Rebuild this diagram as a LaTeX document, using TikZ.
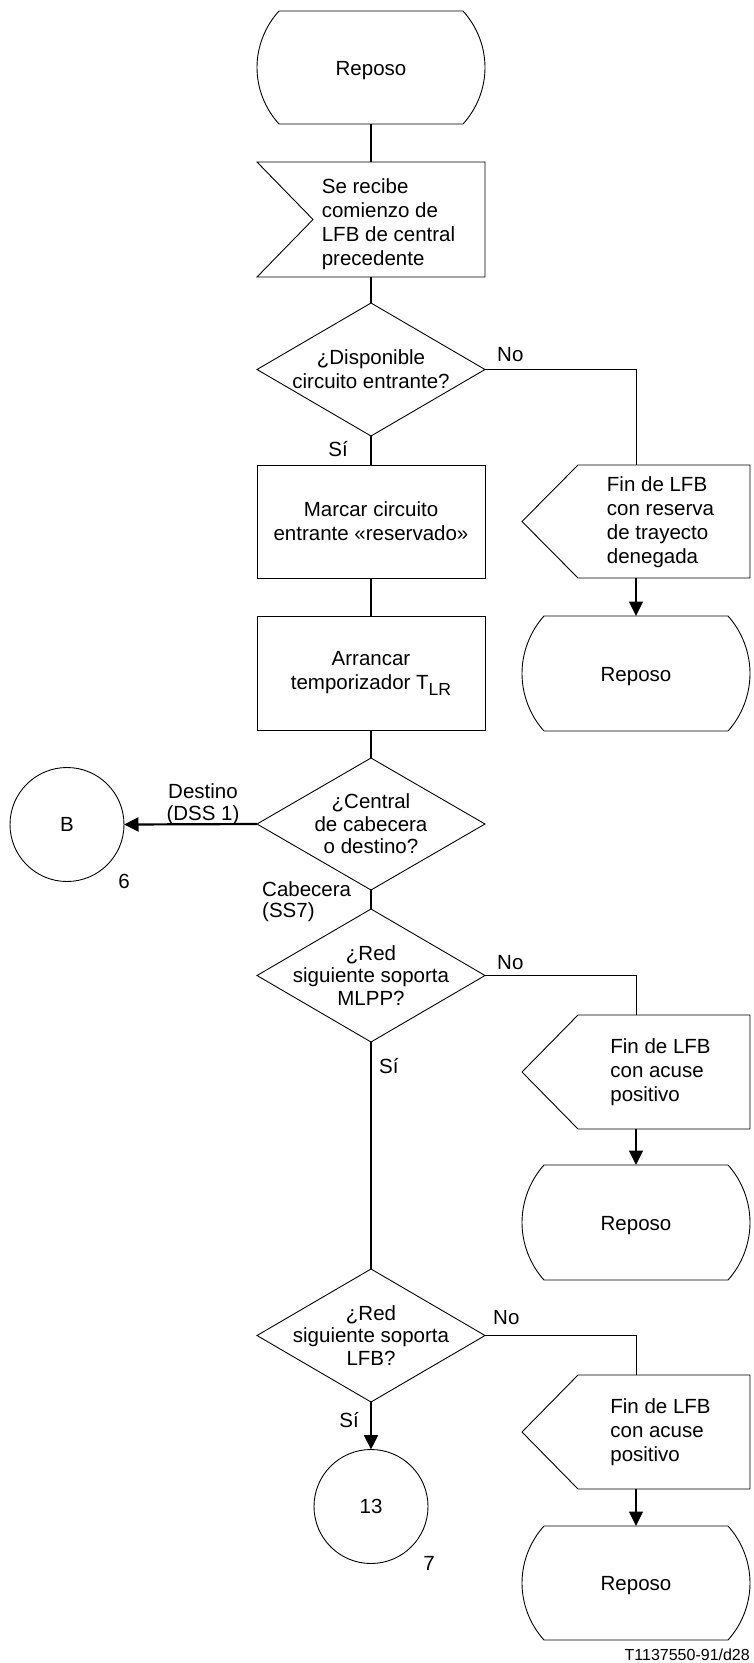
\documentclass[tikz,border=0pt]{standalone}
\usepackage{fontspec}
\setmainfont{Liberation Sans}
\usetikzlibrary{arrows.meta,calc}

\newcommand\boxfont{\fontsize{20.5}{24}\selectfont}
\newcommand\diafont{\fontsize{20.5}{22.5}\selectfont}
\newcommand\lblfont{\fontsize{20.5}{21.5}\selectfont}
\newcommand\notefont{\fontsize{16}{18}\selectfont}

% SDL outlines drawn around plain rectangular nodes
\newcommand\stateoutline[1]{%
  \draw[outline] ($(#1.north west)+(22,0)$) -- ($(#1.north east)+(-22,0)$)
    .. controls +(14,15.5) and +(0,-21) .. (#1.east)
    .. controls +(0,21) and +(14,-15.5) .. ($(#1.south east)+(-22,0)$)
    -- ($(#1.south west)+(22,0)$)
    .. controls +(-14,-15.5) and +(0,21) .. (#1.west)
    .. controls +(0,-21) and +(-14,15.5) .. ($(#1.north west)+(22,0)$) -- cycle;}
\newcommand\insigoutline[1]{%
  \draw[outline] (#1.north west) -- (#1.north east) -- (#1.south east)
    -- (#1.south west) -- ($(#1.west)+(56,0)$) -- cycle;}
\newcommand\outsigoutline[1]{%
  \draw[outline] (#1.west) -- ($(#1.north west)+(56,0)$) -- (#1.north east)
    -- (#1.south east) -- ($(#1.south west)+(56,0)$) -- cycle;}
\newcommand\diaoutline[1]{%
  \draw[outline] (#1.north) -- (#1.east) -- (#1.south) -- (#1.west) -- cycle;}

\tikzset{
  outline/.style={line width=0.9pt, line join=miter},
  base/.style={inner sep=0pt, outer sep=0pt, font=\boxfont},
  statebox/.style={base, align=center, minimum width=228pt, text height=15pt, text depth=0pt},
  procbox/.style={base, align=center, draw, outline, minimum width=228pt},
  sigbox/.style={base, minimum width=228pt, text height=20pt},
  decision/.style={base, align=center, font=\diafont, minimum width=228pt, minimum height=133pt},
  connector/.style={base, circle, draw, outline, minimum size=114pt},
  lbl/.style={inner sep=0pt, font=\lblfont},
  flow/.style={line width=2.2pt},
  branch/.style={line width=1pt},
  branchdown/.style={line width=1.3pt},
  arrowend/.style={-{Triangle[length=14.5pt,width=14pt]}}
}

\begin{document}
\begin{tikzpicture}[x=1pt, y={(0pt,-1pt)}]
\fill[white] (0,0) rectangle (754,1663);
\useasboundingbox (0,0) rectangle (754,1663);

% main column
\node[statebox, minimum height=113pt] (r0) at (371,67.5) {Reposo};
\node[sigbox, minimum height=115pt, text depth=73pt] (sig) at (371,219.5)
  {\hspace*{35pt}\begin{tabular}[t]{@{}l@{}}Se recibe\\comienzo de\\LFB de central\\precedente\end{tabular}};
\node[decision, font=\boxfont] (d1) at (371,369.5) {¿Disponible\\circuito entrante?};
\node[procbox, minimum height=113pt] (mark) at (371,521.5) {Marcar circuito\\entrante «reservado»};
\node[procbox, minimum height=114pt] (timer) at (371,673)
  {Arrancar\\temporizador T\raisebox{-6pt}{\fontsize{17.5}{17.5}\selectfont LR}};
\node[decision, minimum height=132pt] (d2) at (371,824) {¿Central\\de cabecera\\o destino?};
\node[decision] (d3) at (371,975.5) {¿Red\\siguiente soporta\\MLPP?};
\node[decision] (d4) at (371,1335.5) {¿Red\\siguiente soporta\\LFB?};
\node[connector] (c13) at (371,1506.5) {13};
\node[connector] (cB) at (67,824.5) {B};

% right column
\node[sigbox, minimum height=113pt, text depth=81pt] (out1) at (636,521.5)
  {\hspace*{49pt}\begin{tabular}[t]{@{}l@{}}Fin de LFB\\con reserva\\de trayecto\\denegada\end{tabular}};
\node[statebox, minimum height=115pt] (r1) at (636,673.5) {Reposo};
\node[sigbox, minimum height=114pt, text depth=57pt] (out2) at (636,1072)
  {\hspace*{49pt}\begin{tabular}[t]{@{}l@{}}Fin de LFB\\con acuse\\positivo\end{tabular}};
\node[statebox, minimum height=115pt] (r2) at (636,1222.5) {Reposo};
\node[sigbox, minimum height=114pt, text depth=57pt] (out3) at (636,1432)
  {\hspace*{49pt}\begin{tabular}[t]{@{}l@{}}Fin de LFB\\con acuse\\positivo\end{tabular}};
\node[statebox, minimum height=114pt] (r3) at (636,1583) {Reposo};

% outlines
\foreach \n in {r0,r1,r2,r3} {\stateoutline{\n}}
\insigoutline{sig}
\foreach \n in {out1,out2,out3} {\outsigoutline{\n}}
\foreach \n in {d1,d2,d3,d4} {\diaoutline{\n}}

% main flow
\draw[flow] (r0.south) -- (sig.north);
\draw[flow] (sig.south) -- (d1.north);
\draw[flow] (d1.south) -- (mark.north);
\draw[flow] (mark.south) -- (timer.north);
\draw[flow] (timer.south) -- (d2.north);
\draw[flow, arrowend] (d2.west) -- (cB.east);
\draw[flow] (d2.south) -- (d3.north);
\draw[flow] (d3.south) -- (d4.north);
\draw[flow, arrowend] (d4.south) -- (c13.north);

% negative branches
\draw[branch] (d1.east) -| (out1.north);
\draw[branchdown, arrowend] (out1.south) -- (r1.north);
\draw[branch] (d3.east) -| (out2.north);
\draw[branchdown, arrowend] (out2.south) -- (r2.north);
\draw[branch] (d4.east) -| (out3.north);
\draw[branchdown, arrowend] (out3.south) -- (r3.north);

% branch labels
\node[lbl, anchor=base west] at ($(d1.east)+(12,-8)$) {No};
\node[lbl, anchor=base east] at ($(d1.south)+(-23,20)$) {Sí};
\node[lbl, align=center] at ($(d2.west)+(-54,-19.7)$) {Destino\\(DSS 1)};
\node[lbl, align=left, anchor=west] at ($(d2.south)+(-109,11.7)$) {Cabecera\\(SS7)};
\node[lbl, anchor=base west] at ($(d3.east)+(12,-6.5)$) {No};
\node[lbl, anchor=base west] at ($(d3.south)+(8,31)$) {Sí};
\node[lbl, anchor=base west] at ($(d4.east)+(8,-11.5)$) {No};
\node[lbl, anchor=base east] at ($(d4.south)+(-12,25)$) {Sí};

% connector page references
\node[lbl, anchor=base] at ($(cB.center)+(57,63.5)$) {6};
\node[lbl, anchor=base] at ($(c13.center)+(58,63.5)$) {7};

\node[inner sep=0pt, font=\notefont, anchor=base east] (ref) at (750,1660) {T1137550-91/d28};
\end{tikzpicture}
\end{document}
